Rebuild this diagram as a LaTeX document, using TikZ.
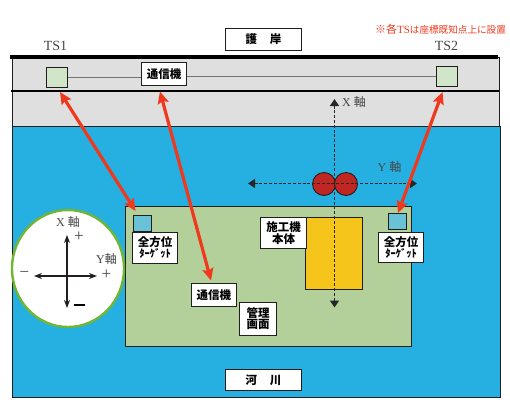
\documentclass[tikz,border=0pt]{standalone}
\usepackage{fontspec}
\setmainfont{Liberation Serif}
\newfontfamily\cjk{Noto Sans CJK JP}
\usetikzlibrary{arrows.meta,shapes.geometric}
\definecolor{river}{RGB}{38,176,226}
\definecolor{bank}{RGB}{223,223,223}
\definecolor{yard}{RGB}{180,208,154}
\definecolor{tsfill}{RGB}{209,230,200}
\definecolor{tgfill}{RGB}{105,194,214}
\definecolor{body}{RGB}{245,197,28}
\definecolor{drum}{RGB}{192,39,35}
\definecolor{redline}{RGB}{240,56,28}
\definecolor{edge}{RGB}{35,30,30}
\definecolor{ring}{RGB}{112,182,52}
\definecolor{soft}{RGB}{70,70,70}
\tikzset{
  area/.style={draw=edge,line width=0.85pt},
  lab/.style={draw=edge,fill=white,line width=0.9pt,align=center,inner sep=0pt,font=\cjk\bfseries\fontsize{11.5}{13}\selectfont},
  dev/.style={draw=edge,line width=0.9pt,inner sep=0pt},
  link/.style={draw=black!55,line width=0.9pt},
  survey/.style={draw=redline,line width=3.2pt,{Stealth[length=12pt,width=11pt,inset=2pt]}-{Stealth[length=12pt,width=11pt,inset=2pt]}},
  axisline/.style={draw=black!85,line width=1.4pt,dash pattern=on 3pt off 1.8pt,{Triangle[length=7pt,width=9pt]}-{Triangle[length=7pt,width=9pt]}},
  crossaxis/.style={draw=edge,line width=1.4pt,{Stealth[length=8pt,width=6pt]}-{Stealth[length=8pt,width=6pt]}},
  tx/.style={text=soft,inner sep=0pt,font=\fontsize{12}{14}\selectfont},
  sign/.style={text=soft,inner sep=0pt,font=\fontsize{17}{17}\selectfont},
}
\newcommand{\boxat}[6][lab]{\node[#1,minimum width=#4pt,minimum height=#5pt] (#2) at (#3) {#6};}
\begin{document}
\begin{tikzpicture}[x=1pt,y=-1pt]
\useasboundingbox (0,0) rectangle (510,402);
% ground
\path[area,fill=bank] (12.5,57) rectangle (499.5,126);
\path[area,fill=river] (12,126.5) rectangle (500,397);
\path[area,fill=yard] (125.5,206.5) rectangle (411.5,346.5);
\draw[black,line width=3.6pt] (10,57) -- (498,57);
\draw[black,line width=2.4pt] (11,91) -- (498.5,91);
% machine body
\node[dev,fill=body,minimum width=57pt,minimum height=72pt] (mach) at (334,253.5) {};
% drums
\node[circle,dev,fill=drum,minimum size=23pt] (d1) at (324,184) {};
\node[circle,dev,fill=drum,minimum size=23pt] (d2) at (346,184) {};
% site axes
\coordinate (xtop) at (334.5,99);
\coordinate (xbot) at (334.5,307.5);
\coordinate (yleft) at (248,183.5);
\coordinate (yright) at (417,183.5);
\draw[axisline] (xtop) -- (xbot);
\draw[axisline] (yleft) -- (yright);
\node[tx,anchor=west] (xlab) at (342,102) {X {\cjk 軸}};
\node[tx,anchor=center] (ylab) at (389.5,167) {Y {\cjk 軸}};
% stations and links
\boxat[dev,fill=tsfill]{ts1}{56.75,77.25}{21.5}{20.5}{}
\boxat[dev,fill=tsfill]{ts2}{447,76.5}{21}{20}{}
\boxat{com1}{164,74}{45}{23}{通信機}
\draw[link] (ts1) -- (ts1 -| com1.west);
\draw[link] (com1.east |- ts2) -- (ts2);
\node[inner sep=0pt,font=\fontsize{14}{16}\selectfont,text=soft] (ts1t) at (55.5,46) {TS1};
\node[inner sep=0pt,font=\fontsize{14}{16}\selectfont,text=soft] (ts2t) at (446.5,46) {TS2};
\boxat{shore}{263.5,39.5}{76}{22}{護\hspace{1.1em}岸}
\boxat{riverl}{263.5,380}{76}{21}{河\hspace{1.1em}川}
\node[text=redline,inner sep=0pt,font=\fontsize{11}{13}\selectfont] (note) at (440.5,29) {{\cjk ※各}TS{\cjk\fontsize{9.6}{11}\selectfont は座標既知点上に設置}};
% targets
\boxat[dev,fill=tgfill]{tgl}{142.5,223}{18}{16}{}
\boxat[dev,fill=tgfill]{tgr}{397.5,221.5}{18}{15.5}{}
\boxat{tll}{155,247.75}{45}{30.5}{全方位\\[-1.5pt]\fontsize{10.5}{10.5}\selectfont ﾀｰｹﾞｯﾄ}
\boxat{tlr}{401,247.5}{45}{30}{全方位\\[-1.5pt]\fontsize{10.5}{10.5}\selectfont ﾀｰｹﾞｯﾄ}
\boxat{machl}{283.5,233}{46}{31}{施工機\\[-1.5pt]本体}
\boxat{com2}{213.75,294.75}{44.5}{22.5}{通信機}
\boxat{mgr}{258,318.75}{37}{32.5}{管理\\[-1.5pt]画面}
% survey lines
\coordinate (a1) at (60,92);
\coordinate (a2) at (135.5,211);
\coordinate (b1) at (160,91.5);
\coordinate (b2) at (211,280.5);
\coordinate (c1) at (442.5,92);
\coordinate (c2) at (398,213);
\draw[survey] (a1) -- (a2);
\draw[survey] (b1) -- (b2);
\draw[survey] (c1) -- (c2);
% legend
\node[draw=ring,fill=white,line width=2.4pt,ellipse,inner sep=0pt,minimum width=112pt,minimum height=117pt] (legend) at (68,268.5) {};
\coordinate (lt) at (67,235);
\coordinate (lb) at (67,308);
\coordinate (ll) at (34,276);
\coordinate (lr) at (97,276);
\draw[crossaxis] (lt) -- (lb);
\draw[crossaxis] (ll) -- (lr);
\node[tx] (lx) at (68,221.5) {X {\cjk 軸}};
\node[tx] (ly) at (106.5,258.5) {Y{\cjk 軸}};
\node[sign] (p1) at (79,237) {+};
\node[sign] (p2) at (106.5,275) {+};
\node[sign] (m1) at (24.5,274) {−};
\node[inner sep=0pt,minimum width=11pt,minimum height=2pt,fill=black] (m2) at (79,305) {};
\end{tikzpicture}
\end{document}
